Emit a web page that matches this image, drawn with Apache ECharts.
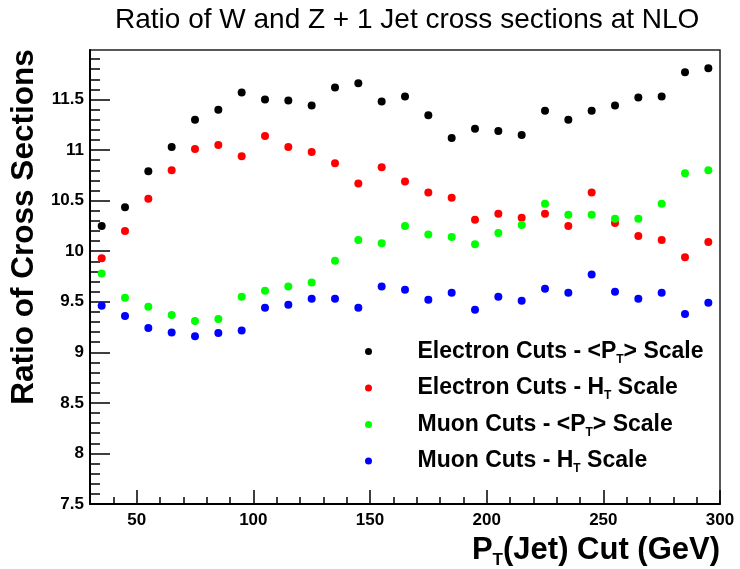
<!DOCTYPE html>
<html>
<head>
<meta charset="utf-8">
<title>Ratio of W and Z + 1 Jet cross sections at NLO</title>
<script src="https://cdn.jsdelivr.net/npm/echarts@6/dist/echarts.min.js"></script>
<style>
  html, body { margin: 0; padding: 0; background: #ffffff; }
  #chart { width: 740px; height: 569px; }
</style>
</head>
<body>
<div id="chart"></div>
<script>
// Jet transverse-momentum cut (GeV)
const ptCut = [35, 45, 55, 65, 75, 85, 95, 105, 115, 125,
               135, 145, 155, 165, 175, 185, 195, 205, 215, 225,
               235, 245, 255, 265, 275, 285, 295];

// W / (Z + 1 jet) cross-section ratios
const electronPtScale = [10.25, 10.435, 10.79, 11.03, 11.30, 11.40, 11.57, 11.50, 11.49, 11.44,
                         11.62, 11.66, 11.48, 11.53, 11.345, 11.12, 11.21, 11.19, 11.15, 11.39,
                         11.30, 11.39, 11.44, 11.52, 11.53, 11.77, 11.81];
const electronHtScale = [9.93, 10.20, 10.52, 10.80, 11.01, 11.05, 10.94, 11.14, 11.03, 10.98,
                         10.87, 10.67, 10.83, 10.69, 10.58, 10.53, 10.31, 10.37, 10.33, 10.37,
                         10.25, 10.58, 10.28, 10.15, 10.11, 9.94, 10.09];
const muonPtScale = [9.78, 9.54, 9.45, 9.37, 9.31, 9.33, 9.55, 9.61, 9.65, 9.69,
                     9.905, 10.11, 10.08, 10.25, 10.165, 10.14, 10.07, 10.18, 10.26, 10.47,
                     10.36, 10.36, 10.32, 10.32, 10.47, 10.77, 10.80];
const muonHtScale = [9.46, 9.36, 9.24, 9.195, 9.16, 9.19, 9.215, 9.44, 9.47, 9.53,
                     9.53, 9.44, 9.65, 9.62, 9.52, 9.59, 9.42, 9.55, 9.51, 9.63,
                     9.59, 9.77, 9.60, 9.53, 9.59, 9.38, 9.49];

const seriesNames = ['Electron Cuts - <P_T> Scale', 'Electron Cuts - H_T Scale',
                     'Muon Cuts - <P_T> Scale', 'Muon Cuts - H_T Scale'];
const seriesColors = ['#000000', '#ff0000', '#00ff00', '#0000ff'];

// Axis tick positions
const xMajorTicks = [50, 100, 150, 200, 250, 300];
const yMajorTicks = [7.5, 8, 8.5, 9, 9.5, 10, 10.5, 11, 11.5];
const xRange = [30, 300];
const yRange = [7.5, 11.99];

function minorTicks(from, to, step, majors) {
  const out = [];
  for (let i = 0; ; i++) {
    const v = Math.round((from + i * step) * 1000) / 1000;
    if (v > to) break;
    if (!majors.some(m => Math.abs(m - v) < 1e-6)) out.push(v);
  }
  return out;
}
const xMinorTicks = minorTicks(40, 290, 10, xMajorTicks);
const yMinorTicks = minorTicks(7.6, 11.9, 0.1, yMajorTicks);

const FONT = "'Liberation Sans', Arial, Helvetica, sans-serif";
const subscriptify = s => s.replace(/_T/g, '{sub|T}');

const columns = [electronPtScale, electronHtScale, muonPtScale, muonHtScale];

const chart = echarts.init(document.getElementById('chart'), null, { renderer: 'canvas' });

chart.setOption({
  animation: false,
  backgroundColor: '#ffffff',
  textStyle: { fontFamily: FONT },
  title: {
    text: 'Ratio of W and Z + 1 Jet cross sections at NLO',
    left: 110,
    top: 1,
    textStyle: { fontFamily: FONT, fontSize: 28, fontWeight: 'normal', color: '#000' }
  },
  grid: {
    left: 90, right: 20, top: 50, bottom: 64,
    show: true, borderColor: '#222', borderWidth: 1.5, backgroundColor: 'transparent'
  },
  legend: {
    orient: 'vertical',
    left: 360,
    top: 335,
    icon: 'circle',
    itemWidth: 88,
    itemHeight: 7,
    itemGap: 11,
    data: seriesNames,
    formatter: name => subscriptify(name),
    textStyle: {
      fontFamily: FONT, fontSize: 23, fontWeight: 'bold', color: '#000', lineHeight: 22,
      rich: {
        sub: { fontFamily: FONT, fontSize: 12, fontWeight: 'bold', color: '#000', padding: [16, 0, 0, 0] }
      }
    }
  },
  xAxis: [
    {
      type: 'value', min: xRange[0], max: xRange[1], position: 'bottom',
      name: 'P{sub|T}(Jet) Cut (GeV)',
      nameLocation: 'end', nameGap: 0,
      nameTextStyle: {
        fontFamily: FONT, fontSize: 31, fontWeight: 'bold', color: '#000',
        align: 'right', verticalAlign: 'top', padding: [28, 0, 0, 0],
        rich: { sub: { fontFamily: FONT, fontSize: 17, fontWeight: 'bold', color: '#000', padding: [20, 0, 0, 0] } }
      },
      axisLine: { show: true, lineStyle: { color: '#000', width: 2 } },
      axisTick: { show: true, inside: true, length: 14, customValues: xMajorTicks, lineStyle: { color: '#000', width: 1.5 } },
      axisLabel: { show: true, customValues: xMajorTicks, margin: 8, fontFamily: FONT, fontSize: 17, fontWeight: 'bold', color: '#000' },
      splitLine: { show: false }
    },
    {
      type: 'value', min: xRange[0], max: xRange[1], position: 'bottom',
      axisLine: { show: false },
      axisTick: { show: true, inside: true, length: 7, customValues: xMinorTicks, lineStyle: { color: '#000', width: 1.5 } },
      axisLabel: { show: false },
      splitLine: { show: false }
    }
  ],
  yAxis: [
    {
      type: 'value', min: yRange[0], max: yRange[1], position: 'left',
      name: 'Ratio of Cross Sections',
      nameLocation: 'middle', nameGap: 48,
      nameTextStyle: {
        fontFamily: FONT, fontSize: 31.5, fontWeight: 'bold', color: '#000',
        padding: [0, 0, 0, 100]
      },
      axisLine: { show: true, lineStyle: { color: '#000', width: 2 } },
      axisTick: { show: true, inside: true, length: 20, customValues: yMajorTicks, lineStyle: { color: '#000', width: 1.5 } },
      axisLabel: { show: true, customValues: yMajorTicks, margin: 6, fontFamily: FONT, fontSize: 17, fontWeight: 'bold', color: '#000' },
      splitLine: { show: false }
    },
    {
      type: 'value', min: yRange[0], max: yRange[1], position: 'left',
      axisLine: { show: false },
      axisTick: { show: true, inside: true, length: 10, customValues: yMinorTicks, lineStyle: { color: '#000', width: 1.5 } },
      axisLabel: { show: false },
      splitLine: { show: false }
    }
  ],
  series: seriesNames.map((name, i) => ({
    name: name,
    type: 'scatter',
    xAxisIndex: 0,
    yAxisIndex: 0,
    symbol: 'circle',
    symbolSize: 8,
    itemStyle: { color: seriesColors[i], opacity: 1 },
    data: ptCut.map((x, j) => [x, columns[i][j]])
  }))
});
</script>
</body>
</html>
